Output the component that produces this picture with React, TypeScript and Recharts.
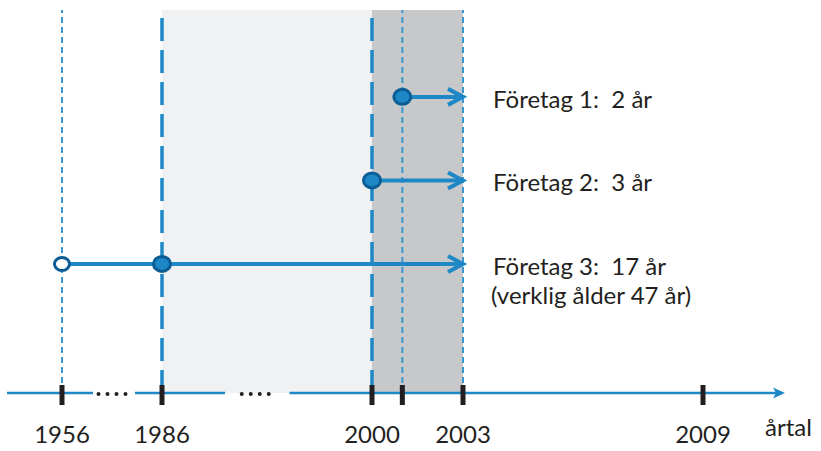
import React from 'react';
import { ComposedChart, Line, XAxis, YAxis, ReferenceArea, ReferenceLine, Label } from 'recharts';

const companies = ['Företag 1', 'Företag 2', 'Företag 3'];
const foundedYears = [2001, 2000, 1956];
const countedFrom = [2001, 2000, 1986];
const endYear = 2003;
const ageLabels = ['2 år', '3 år', '17 år'];
const ageNotes = ['', '', '(verklig ålder 47 år)'];
const rowLevels = [3, 2, 1];

const tickYears = [1956, 1986, 2000, 2001, 2003, 2009];
const tickLabels = ['1956', '1986', '2000', '', '2003', '2009'];

const lightPeriod = [1986, 2000];
const darkPeriod = [2000, 2003];
const thickLines = [1986, 2000];
const thinLines = [1956, 2001, 2003];

const BLUE = '#1E88C7';
const DARK_BLUE = '#0B5E95';
const INK = '#231F20';
const FONT = 'Lato, "Noto Sans", sans-serif';

// the time axis is schematic: each stretch between knots gets its own width
const knots = [1950, 1956, 1986, 2000, 2003, 2009, 2011];
const stretch = [55, 100, 210, 91, 240, 82];
const xDomain = [1950, 2011];
const yDomain = [-0.545, 4.04];
const axisPieces = [[1950, 1965.3], [1977.9, 1990.2], [1994.5, 2011]];

function brokenScale(rng: number[] = [0, 1]): any {
  const total = stretch.reduce((a, b) => a + b, 0);
  const cum = [0];
  stretch.forEach((s) => cum.push(cum[cum.length - 1] + s / total));
  let range = rng;
  const scale: any = (v: number) => {
    let i = 0;
    while (i < knots.length - 2 && v > knots[i + 1]) i++;
    const t = cum[i] + ((v - knots[i]) / (knots[i + 1] - knots[i])) * (cum[i + 1] - cum[i]);
    return range[0] + t * (range[1] - range[0]);
  };
  scale.domain = (d?: number[]) => (d ? scale : xDomain);
  scale.range = (r?: number[]) => {
    if (!r) return range;
    range = r;
    return scale;
  };
  scale.copy = () => brokenScale(range);
  scale.ticks = () => tickYears;
  return scale;
}

const rows = companies.map((name, i) => {
  const pts: any[] = [];
  if (foundedYears[i] < countedFrom[i]) pts.push({ year: foundedYears[i], level: rowLevels[i], kind: 'founded' });
  pts.push({ year: countedFrom[i], level: rowLevels[i], kind: 'start' });
  pts.push({ year: endYear, level: rowLevels[i], kind: 'end' });
  return { name, pts, label: `${name}:  ${ageLabels[i]}`, note: ageNotes[i] };
});

const YearTick = (props: any) => {
  const { x, y, payload } = props;
  const label = tickLabels[tickYears.indexOf(payload.value)];
  return (
    <g>
      <rect x={x - 2.5} y={y - 8} width={5} height={20} fill={INK} />
      {label ? (
        <text x={x} y={y + 50} textAnchor="middle" fontSize={24} fontFamily={FONT} fill={INK}>
          {label}
        </text>
      ) : null}
    </g>
  );
};

const makeDot = (row: any) => (props: any) => {
  const { cx, cy, payload, index } = props;
  if (payload.kind === 'founded') {
    return <ellipse key={index} cx={cx} cy={cy} rx={7.5} ry={6.5} fill="#fff" stroke={DARK_BLUE} strokeWidth={3} />;
  }
  if (payload.kind === 'start') {
    return <ellipse key={index} cx={cx} cy={cy} rx={8.5} ry={7.5} fill={BLUE} stroke={DARK_BLUE} strokeWidth={3} />;
  }
  return (
    <g key={index}>
      <path d={`M${cx - 15},${cy - 8} L${cx},${cy} L${cx - 15},${cy + 8}`} fill="none" stroke={BLUE} strokeWidth={4} />
      <text x={cx + 30} y={cy + 11} fontSize={24} fontFamily={FONT} fill={INK} style={{ whiteSpace: 'pre' }}>
        {row.label}
      </text>
      {row.note ? (
        <text x={cx + 28} y={cy + 40} fontSize={24} fontFamily={FONT} fill={INK}>
          {row.note}
        </text>
      ) : null}
    </g>
  );
};

const axisArrow = (props: any) => {
  const { x1, y1, x2, y2 } = props;
  return (
    <g>
      <line x1={x1} y1={y1} x2={x2 - 6} y2={y2} stroke={BLUE} strokeWidth={2.5} />
      <path d={`M${x2},${y2} L${x2 - 12},${y2 - 5.5} L${x2 - 9},${y2} L${x2 - 12},${y2 + 5.5} Z`} fill={BLUE} />
    </g>
  );
};

// four dots sitting in a gap of the time axis
const breakDots = (props: any) => {
  const { x1, y1, x2 } = props;
  const mid = (x1 + x2) / 2 - 2;
  return (
    <g>
      {[-1.5, -0.5, 0.5, 1.5].map((k) => (
        <circle key={k} cx={mid + k * 9} cy={y1 + 1} r={2} fill={INK} />
      ))}
    </g>
  );
};

const Chart = () => {
  return (
    <div style={{ position: 'absolute', left: 0, top: 0 }}>
      <ComposedChart width={821} height={451} margin={{ top: 10, right: 36, left: 7, bottom: 0 }}>
        <XAxis
          type="number"
          dataKey="year"
          domain={xDomain}
          scale={brokenScale()}
          allowDataOverflow
          ticks={tickYears}
          interval={0}
          tick={<YearTick />}
          tickLine={false}
          axisLine={false}
          tickSize={0}
          tickMargin={0}
          height={58}
        >
          <Label value="årtal" position="right" offset={-20} dy={5} fontSize={24} fontFamily={FONT} fill={INK} />
        </XAxis>
        <YAxis type="number" hide domain={yDomain} allowDataOverflow />
        <ReferenceArea x1={lightPeriod[0]} x2={lightPeriod[1]} fill="#F0F1F3" fillOpacity={1} stroke="none" ifOverflow="visible" />
        <ReferenceArea x1={darkPeriod[0]} x2={darkPeriod[1]} fill="#C7C8CA" fillOpacity={1} stroke="none" ifOverflow="visible" />
        {thinLines.map((yr) => (
          <ReferenceLine key={`t${yr}`} x={yr} stroke="#3A95D0" strokeWidth={2} strokeDasharray="6 4" ifOverflow="visible" />
        ))}
        {thickLines.map((yr) => (
          <ReferenceLine key={`k${yr}`} x={yr} stroke={BLUE} strokeWidth={3.5} strokeDasharray="23 9" ifOverflow="visible" />
        ))}
        {axisPieces.map((p, i) => (
          <ReferenceLine
            key={`a${i}`}
            segment={[{ x: p[0], y: yDomain[0] }, { x: p[1], y: yDomain[0] }]}
            stroke={BLUE}
            strokeWidth={2.5}
            ifOverflow="visible"
            shape={i === axisPieces.length - 1 ? axisArrow : undefined}
          />
        ))}
        {axisPieces.slice(1).map((p, i) => (
          <ReferenceLine
            key={`b${i}`}
            segment={[{ x: axisPieces[i][1], y: yDomain[0] }, { x: p[0], y: yDomain[0] }]}
            ifOverflow="visible"
            shape={breakDots}
          />
        ))}
        {rows.map((row) => (
          <Line
            key={row.name}
            data={row.pts}
            dataKey="level"
            stroke={BLUE}
            strokeWidth={4}
            dot={makeDot(row)}
            activeDot={false}
            isAnimationActive={false}
          />
        ))}
      </ComposedChart>
    </div>
  );
};

export default Chart;
